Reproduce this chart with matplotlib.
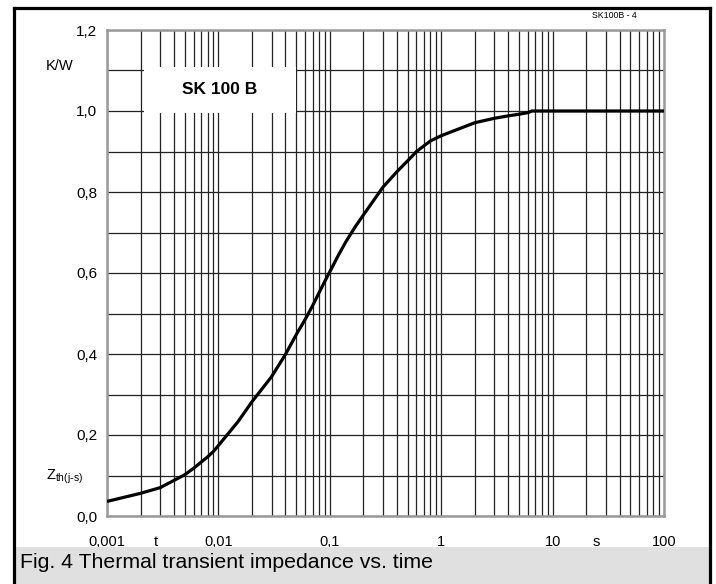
import matplotlib
matplotlib.use("Agg")
import matplotlib.pyplot as plt
from matplotlib.patches import Rectangle
from matplotlib.lines import Line2D
from matplotlib.ticker import FixedLocator, NullFormatter, LogLocator

plt.rcParams['font.family'] = ['Liberation Sans', 'DejaVu Sans']

# Data
time_s = [0.001, 0.002, 0.003, 0.004, 0.005, 0.006, 0.007, 0.008, 0.009, 0.01,
          0.015, 0.02, 0.03, 0.04, 0.05, 0.06, 0.07, 0.08, 0.09, 0.1,
          0.12, 0.14, 0.17, 0.2, 0.3, 0.4, 0.5, 0.6, 0.7, 0.8, 1.0, 2.0,
          3.0, 4.0, 5.0, 6.0, 6.5, 100.0]
zth = [0.036, 0.056, 0.070, 0.088, 0.102, 0.118, 0.133, 0.146, 0.159, 0.174,
       0.233, 0.282, 0.344, 0.399, 0.448, 0.485, 0.519, 0.551, 0.579, 0.603,
       0.645, 0.678, 0.715, 0.743, 0.812, 0.850, 0.877, 0.900, 0.914, 0.926, 0.939, 0.971,
       0.982, 0.988, 0.992, 0.996, 1.0, 1.0]

x_ticks = [0.001, 0.01, 0.1, 1, 10, 100]
x_tick_labels = ["0,001", "0,01", "0,1", "1", "10", "100"]
y_ticks = [0.0, 0.2, 0.4, 0.6, 0.8, 1.0, 1.2]
y_tick_labels = ["0,0", "0,2", "0,4", "0,6", "0,8", "1,0", "1,2"]
y_minor = [0.1, 0.3, 0.5, 0.7, 0.9, 1.1]

W, H = 716, 584
fig = plt.figure(figsize=(W / 100, H / 100), dpi=100)

# Caption band
fig.patches.append(Rectangle((15 / W, 0), (709 - 15) / W, (584 - 547) / H,
                             transform=fig.transFigure, facecolor='#e0e0e0',
                             edgecolor='none', zorder=0))
# Outer frame (left, top, right)
lw_frame = 2.3
fig.lines.append(Line2D([13.5 / W, 13.5 / W], [0, 1 - 7.5 / H], transform=fig.transFigure,
                        color='black', lw=lw_frame, solid_capstyle='projecting'))
fig.lines.append(Line2D([13.5 / W, 710 / W], [1 - 7.5 / H, 1 - 7.5 / H], transform=fig.transFigure,
                        color='black', lw=lw_frame, solid_capstyle='projecting'))
fig.lines.append(Line2D([710 / W, 710 / W], [0, 1 - 7.5 / H], transform=fig.transFigure,
                        color='black', lw=lw_frame, solid_capstyle='projecting'))

ax = fig.add_axes([107 / W, 1 - 516 / H, 557 / W, 486 / H])
ax.set_xscale('log')
ax.set_xlim(0.001, 100)
ax.set_ylim(0, 1.2)

ax.xaxis.set_major_locator(FixedLocator(x_ticks))
ax.set_xticklabels(x_tick_labels)
ax.xaxis.set_minor_locator(LogLocator(base=10, subs=range(2, 10), numticks=20))
ax.xaxis.set_minor_formatter(NullFormatter())
ax.yaxis.set_major_locator(FixedLocator(y_ticks))
ax.set_yticklabels(y_tick_labels)
ax.yaxis.set_minor_locator(FixedLocator(y_minor))

ax.tick_params(which='both', length=0)
ax.tick_params(axis='x', pad=14, labelsize=10.5)
ax.tick_params(axis='y', pad=7, labelsize=11)

ax.set_axisbelow(True)
ax.grid(True, which='both', axis='both', color='#222222', lw=0.9)

for sp in ax.spines.values():
    sp.set_color('#9a9a9a')
    sp.set_linewidth(1.8)

# White label box interrupting the grid
ax.add_patch(Rectangle((0.00215, 0.995), 0.0498 - 0.00215, 1.1086 - 0.995,
                       facecolor='white', edgecolor='none', zorder=1))
ax.text(0.0103, 1.052, "SK 100 B", fontsize=12.5, fontweight='bold',
        ha='center', va='center', zorder=3)

ax.plot(time_s, zth, color='black', lw=2.3, zorder=4, solid_capstyle='butt')

# Axis annotations
fig.text(60 / W, 1 - 66 / H, "K/W", fontsize=10.5, ha='center', va='center')
fig.text(64 / W, 1 - 477 / H, r"Z$_{\mathregular{th(j\text{-}s)}}$", fontsize=10.5,
         ha='center', va='center')
fig.text(156 / W, 1 - 542 / H, "t", fontsize=10.5, ha='center', va='center')
fig.text(596 / W, 1 - 542 / H, "s", fontsize=10.5, ha='center', va='center')
fig.text(614 / W, 1 - 15 / H, "SK100B - 4", fontsize=6.3, ha='center', va='center')
fig.text(20 / W, 1 - 562 / H, "Fig. 4 Thermal transient impedance vs. time",
         fontsize=15.3, ha='left', va='center')

fig.savefig("out.png", dpi=100)
